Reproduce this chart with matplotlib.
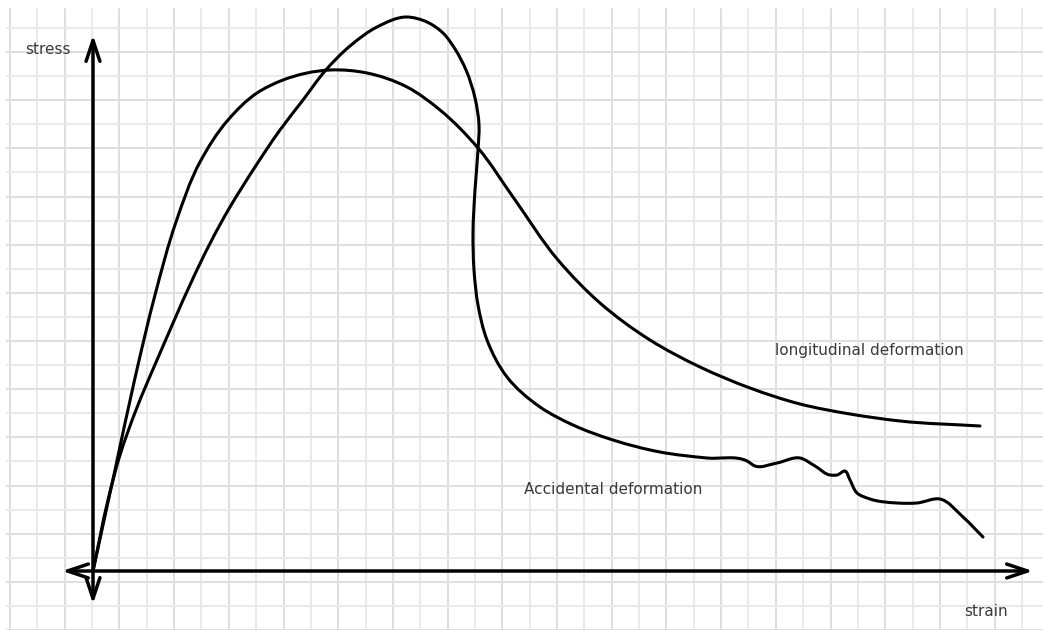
import numpy as np
import matplotlib
matplotlib.use("Agg")
import matplotlib.pyplot as plt
from matplotlib.path import Path
from matplotlib.patches import PathPatch, FancyArrowPatch

# ---- data (strain / stress, arbitrary units) ----
long_strain = [0, 22, 42, 62, 83, 107, 135, 164, 190, 237, 274, 314, 347, 385,
               420, 465, 507, 557, 607, 657, 707, 757, 807, 887]
long_stress = [0, 101, 193, 276, 349, 409, 451, 478, 491, 501, 498, 484, 461, 423,
               374, 311, 268, 231, 204, 183, 167, 157, 150, 145]

acc_strain = [0, 15, 27, 43, 64, 137, 162, 187, 210, 232, 257, 284, 314, 334, 350,
              362, 373, 382, 386, 385, 382, 380, 381, 385, 394, 414, 447, 480, 520, 567,
              614, 654, 662, 684, 707, 722, 737, 744, 752, 757, 764, 777, 804, 824, 847,
              870, 890]
acc_stress = [0, 71, 116, 161, 211, 364, 404, 441, 471, 500, 525, 544, 554, 549, 538,
              522, 501, 473, 446, 421, 381, 338, 301, 266, 231, 194, 164, 146, 131, 119,
              113, 110, 105, 108, 113, 105, 96, 96, 100, 91, 78, 72, 68, 68, 72,
              54, 34]

labels = {"stress": "stress", "strain": "strain",
          "long": "longitudinal deformation", "acc": "Accidental deformation"}

# ---- figure ----
fig = plt.figure(figsize=(10.43, 6.30), dpi=100)
ax = fig.add_axes([0, 0, 1, 1])
ax.set_xlim(-93, 950)
ax.set_ylim(-59, 571)
ax.axis("off")

# grid paper
for k in range(38):
    x = -83 + 27.35 * k
    ax.plot([x, x], [-59, 562], color="#dfdfdf" if k % 2 == 0 else "#eaeaea",
            lw=1.4, zorder=0)
for k in range(26):
    y = 543 - 24.08 * k
    ax.plot([-86, 950], [y, y], color="#dfdfdf" if k % 2 == 1 else "#eaeaea",
            lw=1.4, zorder=0)


def smooth_path(xs, ys):
    """Chord-length parametrised cubic Hermite curve through the points."""
    P = np.column_stack([xs, ys]).astype(float)
    n = len(P)
    d = np.linalg.norm(np.diff(P, axis=0), axis=1)
    m = np.zeros_like(P)
    for i in range(n):
        if i == 0:
            m[i] = (P[1] - P[0]) / d[0]
        elif i == n - 1:
            m[i] = (P[-1] - P[-2]) / d[-1]
        else:
            a = (P[i] - P[i - 1]) / d[i - 1]
            b = (P[i + 1] - P[i]) / d[i]
            m[i] = (a * d[i] + b * d[i - 1]) / (d[i - 1] + d[i])
    verts = [P[0]]
    codes = [Path.MOVETO]
    for i in range(n - 1):
        c1 = P[i] + m[i] * d[i] / 3.0
        c2 = P[i + 1] - m[i + 1] * d[i] / 3.0
        verts += [c1, c2, P[i + 1]]
        codes += [Path.CURVE4] * 3
    return Path(verts, codes)


for xs, ys in [(long_strain, long_stress), (acc_strain, acc_stress)]:
    ax.add_patch(PathPatch(smooth_path(xs, ys), facecolor="none", edgecolor="black",
                           lw=2.2, capstyle="round", joinstyle="round", zorder=3))

# axes arrows
arrow_kw = dict(arrowstyle="<->,head_length=1.5,head_width=0.5", mutation_scale=10,
                color="black", lw=2.5, zorder=4, shrinkA=0, shrinkB=0)
ax.add_patch(FancyArrowPatch((0, -33), (0, 536), **arrow_kw))
ax.add_patch(FancyArrowPatch((-31, 0), (940, 0), **arrow_kw))

tc = "#3a3a3a"
ax.text(-45, 522, labels["stress"], ha="center", va="center", fontsize=11, color=tc)
ax.text(893, -41, labels["strain"], ha="center", va="center", fontsize=11, color=tc)
ax.text(776, 220, labels["long"], ha="center", va="center", fontsize=11, color=tc)
ax.text(520, 81, labels["acc"], ha="center", va="center", fontsize=11, color=tc)

fig.savefig("out.png", dpi=100, facecolor="white")
